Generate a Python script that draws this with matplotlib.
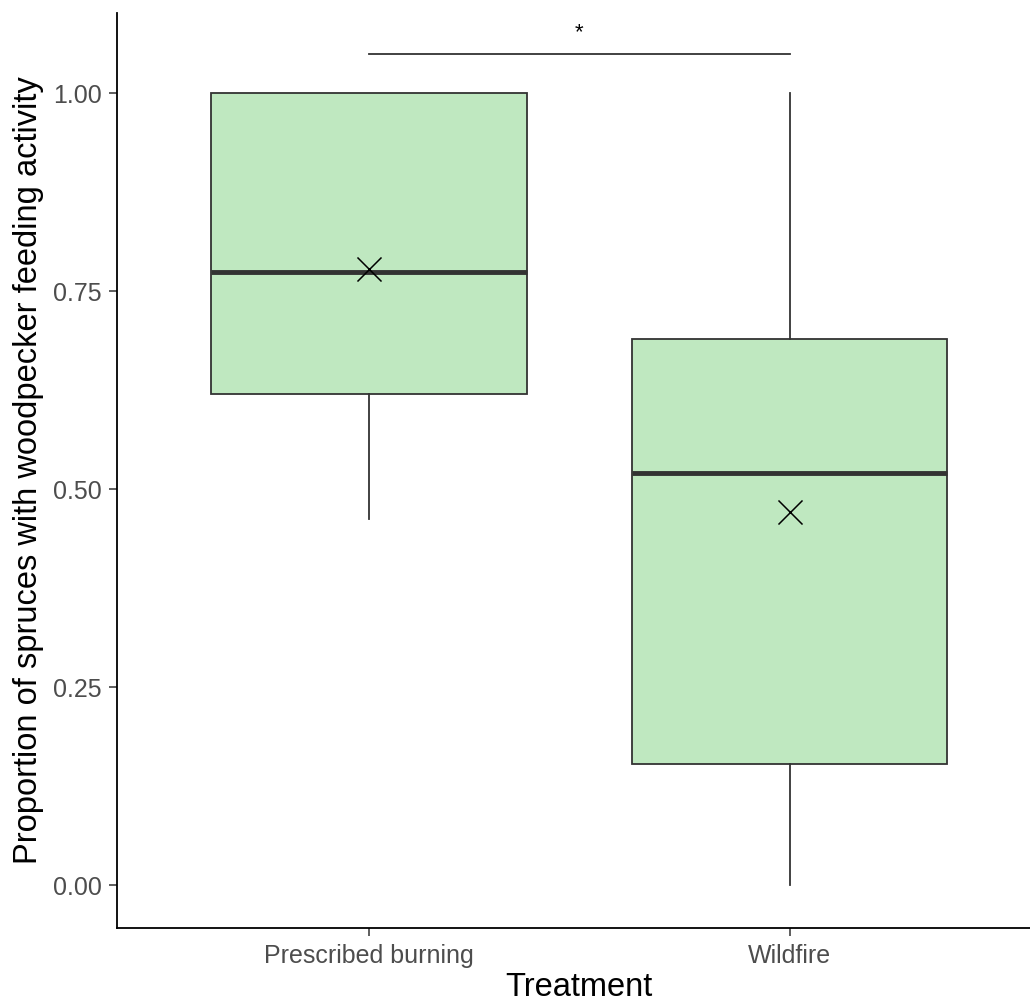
import matplotlib
matplotlib.use("Agg")
import matplotlib.pyplot as plt

plt.rcParams['font.family'] = ['Liberation Sans', 'DejaVu Sans']

categories = ["Prescribed burning", "Wildfire"]
whisker_low = [0.463, 0.0]
q1 = [0.620, 0.153]
median = [0.774, 0.521]
q3 = [1.0, 0.690]
whisker_high = [1.0, 1.0]
means = [0.778, 0.471]
sig_label = "*"
sig_y = 1.049

fill = "#BFE8C0"
edge = "#333333"

fig = plt.figure(figsize=(10.30, 10.06), dpi=100)
ax = fig.add_axes([116.5/1030, 78.5/1006, (1042-116.5)/1030, (927.5-13)/1006])

positions = [1, 2]
stats = []
for i in range(2):
    stats.append(dict(med=median[i], q1=q1[i], q3=q3[i], whislo=whisker_low[i],
                      whishi=whisker_high[i], fliers=[], label=categories[i]))
ax.bxp(stats, positions=positions, widths=0.75, patch_artist=True, showcaps=False,
       boxprops=dict(facecolor=fill, edgecolor=edge, linewidth=1.3),
       medianprops=dict(color=edge, linewidth=3.5, solid_capstyle='butt'),
       whiskerprops=dict(color=edge, linewidth=1.3))

ax.scatter(positions, means, marker='x', s=300, color='black', linewidths=1.1, zorder=5)

ax.plot([1, 2], [sig_y, sig_y], color=edge, linewidth=1.3, clip_on=False)
ax.text(1.5, sig_y + 0.014, sig_label, ha='center', va='bottom', fontsize=16, color='black')

ax.set_xlim(0.4, 2.6)
ax.set_ylim(-0.053, 1.101)
ax.set_yticks([0, 0.25, 0.5, 0.75, 1.0])
ax.set_yticklabels(["0.00", "0.25", "0.50", "0.75", "1.00"])
ax.set_xticks(positions)
ax.set_xticklabels(categories)

for s in ['top', 'right']:
    ax.spines[s].set_visible(False)
for s in ['left', 'bottom']:
    ax.spines[s].set_linewidth(1.3)
    ax.spines[s].set_color('black')

ax.tick_params(axis='both', colors='#333333', length=5.8, width=1.1, labelsize=18,
               labelcolor='#4D4D4D')
ax.tick_params(axis='y', pad=5)
ax.tick_params(axis='x', pad=6)
ax.set_xlabel("Treatment", fontsize=23.5, color='black', labelpad=3)
ax.set_ylabel("Proportion of spruces with woodpecker feeding activity", fontsize=23.5,
              color='black', labelpad=6)

fig.savefig("out.png", dpi=100)
